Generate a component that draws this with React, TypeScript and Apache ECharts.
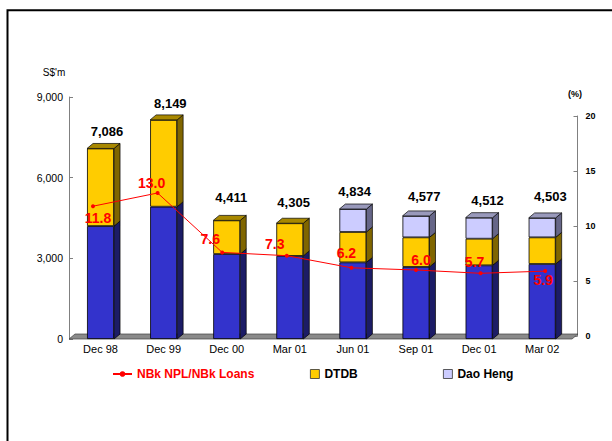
import React, { useEffect, useRef } from "react";
import * as echarts from "echarts";

// ---- data ----
const CATEGORIES = ["Dec 98", "Dec 99", "Dec 00", "Mar 01", "Jun 01", "Sep 01", "Dec 01", "Mar 02"];
const NBK = [4200, 4920, 3160, 3090, 2850, 2680, 2740, 2790];
const DTDB = [2886, 3229, 1251, 1215, 1130, 1100, 990, 990];
const DAO_HENG = [0, 0, 0, 0, 854, 797, 782, 723];
const TOTALS = [7086, 8149, 4411, 4305, 4834, 4577, 4512, 4503];
const NPL_RATIO = [11.8, 13.0, 7.6, 7.3, 6.2, 6.0, 5.7, 5.9];

// ---- layout nudges for labels (px) ----
const TOTAL_LABEL_DX = [6.5, 6.7, 4.5, 3.8, 1.7, 8.3, 8.5, 8.2];
const TOTAL_LABEL_DY = [-17, -16, -23, -21, -18, -19, -17, -21];
const RATIO_LABEL_OFFSET = [[5, 12], [-6, -10], [-12, -13], [-12, -12], [-5, -15], [5, -10], [-6, -11], [-2, 9]];

const FONT = "'Liberation Sans', Arial, sans-serif";
const DX = 6;
const DY = -5;
const FRONT = ["#3333cc", "#ffcc00", "#ccccff"];
const SIDE = ["#1c1c66", "#806600", "#666688"];
const TOP = ["#2a2a99", "#a88800", "#9999bb"];

export default function App() {
  const ref = useRef<HTMLDivElement>(null);
  useEffect(() => {
    document.body.style.margin = "0";
    const chart = echarts.init(ref.current as HTMLDivElement, null, { renderer: "svg" });
    const fmt = (v: number) => v.toLocaleString("en-US");
    const option: any = {
      animation: false,
      backgroundColor: "#ffffff",
      textStyle: { fontFamily: FONT },
      grid: [
        { left: 69, right: 38.3, top: 97, bottom: 102 },
        { left: 60.7, right: 34.5, top: 116, bottom: 105 },
      ],
      xAxis: [
        {
          type: "category",
          gridIndex: 0,
          data: CATEGORIES,
          axisLine: { show: false },
          axisTick: { show: false },
          axisLabel: { color: "#000", fontSize: 11, margin: 4, fontFamily: FONT },
        },
        { type: "category", gridIndex: 1, data: CATEGORIES, show: false },
      ],
      yAxis: [
        {
          type: "value",
          gridIndex: 0,
          min: 0,
          max: 9000,
          interval: 3000,
          splitLine: { show: false },
          axisLine: { show: true, lineStyle: { color: "#808080", width: 1 } },
          axisTick: { show: true, inside: true, length: 4, lineStyle: { color: "#808080" } },
          axisLabel: { color: "#000", fontSize: 10.5, margin: 6, formatter: (v: number) => fmt(v), fontFamily: FONT },
        },
        {
          type: "value",
          gridIndex: 1,
          position: "right",
          min: 0,
          max: 20,
          interval: 5,
          splitLine: { show: false },
          axisLine: { show: true, lineStyle: { color: "#808080", width: 1 } },
          axisTick: { show: true, inside: true, length: 4, lineStyle: { color: "#808080" } },
          axisLabel: { color: "#000", fontSize: 9, fontWeight: "bold", margin: 8, fontFamily: FONT },
        },
      ],
      legend: [
        {
          data: ["NBk NPL/NBk Loans"],
          left: 107,
          top: 363,
          itemWidth: 19,
          itemHeight: 7,
          itemGap: 0,
          selectedMode: false,
          textStyle: { color: "#ff0000", fontSize: 12, fontWeight: "bold", fontFamily: FONT },
        },
        {
          data: ["DTDB"],
          left: 305,
          top: 363,
          icon: "rect",
          itemWidth: 9,
          itemHeight: 9,
          selectedMode: false,
          itemStyle: { borderColor: "#333", borderWidth: 0.8 },
          textStyle: { color: "#000", fontSize: 12, fontWeight: "bold", fontFamily: FONT },
        },
        {
          data: ["Dao Heng"],
          left: 438,
          top: 363,
          icon: "rect",
          itemWidth: 9,
          itemHeight: 9,
          selectedMode: false,
          itemStyle: { borderColor: "#333", borderWidth: 0.8 },
          textStyle: { color: "#000", fontSize: 12, fontWeight: "bold", fontFamily: FONT },
        },
      ],
      graphic: [
        {
          type: "rect",
          shape: { x: 7.5, y: 10.3, width: 700, height: 600 },
          style: { fill: "none", stroke: "#000", lineWidth: 2 },
          z: 0,
        },
        {
          type: "polygon",
          shape: { points: [[69, 339], [572, 339], [578, 334], [75, 334]] },
          style: { fill: "#8a8a8a", stroke: "#404040", lineWidth: 0.7 },
          z: 1,
        },
        {
          type: "text",
          x: 54,
          y: 72,
          style: { text: "S$'m", fill: "#000", font: `10px ${FONT}`, align: "center", verticalAlign: "middle" },
        },
        {
          type: "text",
          x: 575,
          y: 94,
          style: { text: "(%)", fill: "#000", font: `bold 9px ${FONT}`, align: "center", verticalAlign: "middle" },
        },
      ],
      series: [
        {
          name: "NBk",
          type: "bar",
          stack: "s",
          xAxisIndex: 0,
          yAxisIndex: 0,
          barWidth: 27,
          data: NBK,
          itemStyle: { color: FRONT[0], borderColor: "#000", borderWidth: 0.8 },
          z: 2,
        },
        {
          name: "DTDB",
          type: "bar",
          stack: "s",
          xAxisIndex: 0,
          yAxisIndex: 0,
          barWidth: 27,
          data: DTDB,
          itemStyle: { color: FRONT[1], borderColor: "#000", borderWidth: 0.8 },
          z: 2,
        },
        {
          name: "Dao Heng",
          type: "bar",
          stack: "s",
          xAxisIndex: 0,
          yAxisIndex: 0,
          barWidth: 27,
          data: DAO_HENG.map((v) => (v > 0 ? v : "-")),
          itemStyle: { color: FRONT[2], borderColor: "#000", borderWidth: 0.8 },
          z: 2,
        },
        {
          name: "3d",
          type: "custom",
          xAxisIndex: 0,
          yAxisIndex: 0,
          z: 3,
          silent: true,
          data: CATEGORIES.map((_, i) => [i, NBK[i], DTDB[i], DAO_HENG[i], TOTALS[i]]),
          encode: { x: 0, y: 4 },
          renderItem: (params: any, api: any) => {
            const i = api.value(0);
            const vals = [api.value(1), api.value(2), api.value(3)];
            const base = api.coord([i, 0]);
            const w = 27;
            const x0 = base[0] - w / 2;
            const x1 = base[0] + w / 2;
            const children: any[] = [];
            let cum = 0;
            let last = 0;
            let yTop = base[1];
            for (let k = 0; k < 3; k++) {
              if (!(vals[k] > 0)) continue;
              const yb = api.coord([i, cum])[1];
              cum += vals[k];
              const yt = api.coord([i, cum])[1];
              children.push({
                type: "polygon",
                shape: { points: [[x1, yt], [x1 + DX, yt + DY], [x1 + DX, yb + DY], [x1, yb]] },
                style: { fill: SIDE[k], stroke: "#000", lineWidth: 0.7 },
              });
              last = k;
              yTop = yt;
            }
            children.push({
              type: "polygon",
              shape: { points: [[x0, yTop], [x0 + DX, yTop + DY], [x1 + DX, yTop + DY], [x1, yTop]] },
              style: { fill: TOP[last], stroke: "#000", lineWidth: 0.7 },
            });
            children.push({
              type: "text",
              x: base[0] + TOTAL_LABEL_DX[i],
              y: yTop + TOTAL_LABEL_DY[i],
              style: {
                text: fmt(api.value(4)),
                fill: "#000",
                font: `bold 13px ${FONT}`,
                align: "center",
                verticalAlign: "middle",
              },
            });
            return { type: "group", children };
          },
        },
        {
          name: "NBk NPL/NBk Loans",
          type: "line",
          xAxisIndex: 1,
          yAxisIndex: 1,
          z: 6,
          symbol: "circle",
          symbolSize: 4,
          itemStyle: { color: "#ff0000" },
          lineStyle: { color: "#ff0000", width: 1 },
          data: NPL_RATIO.map((v, i) => ({
            value: v,
            label: {
              show: true,
              position: "inside",
              offset: RATIO_LABEL_OFFSET[i],
              formatter: (p: any) => Number(p.value).toFixed(1),
              color: "#ff0000",
              fontSize: 14,
              fontWeight: "bold",
              fontFamily: FONT,
            },
          })),
        },
      ],
    };
    chart.setOption(option);
    return () => chart.dispose();
  }, []);
  return <div ref={ref} style={{ width: 612, height: 441 }} />;
}
